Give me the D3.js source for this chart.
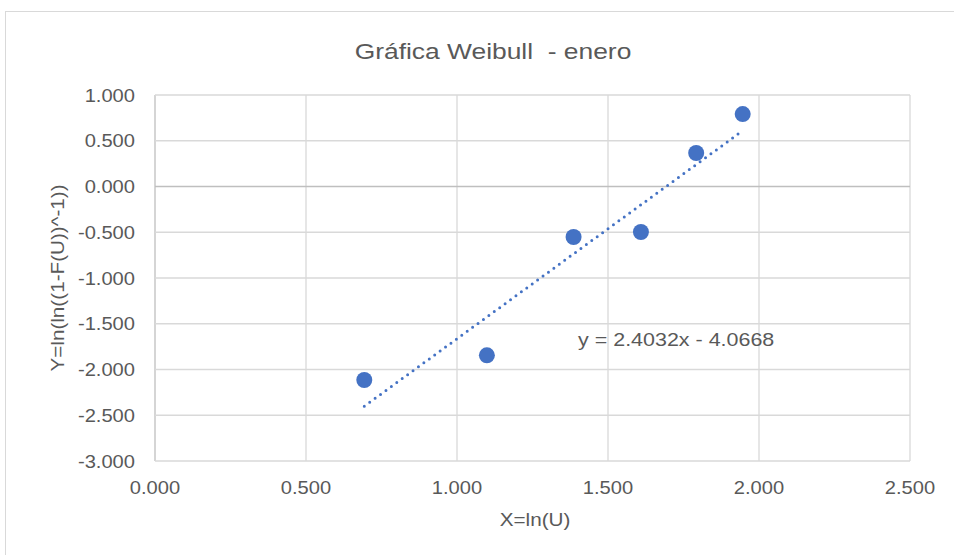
<!DOCTYPE html>
<html><head><meta charset="utf-8">
<script src="https://cdn.jsdelivr.net/npm/d3@7"></script>
<style>body{margin:0;background:#fff}svg{display:block;font-family:"Liberation Sans",Arial,sans-serif}text{white-space:pre}</style>
</head><body>
<script>
const xValues = [0.693, 1.099, 1.386, 1.609, 1.792, 1.946];
const yValues = [-2.115, -1.845, -0.552, -0.497, 0.366, 0.792];
const slope = 2.4032, intercept = -4.0668;
const xTicks = [0, 0.5, 1, 1.5, 2, 2.5];
const yTicks = [1, 0.5, 0, -0.5, -1, -1.5, -2, -2.5, -3];
const title = "Gráfica Weibull  - enero";
const xTitle = "X=ln(U)";
const yTitle = "Y=ln(ln((1-F(U))^-1))";
const eqLabel = "y = 2.4032x - 4.0668";

const W = 954, H = 555;
const svg = d3.select("body").append("svg").attr("width", W).attr("height", H);
svg.append("rect").attr("x",5.5).attr("y",11.5).attr("width",W).attr("height",H)
  .attr("fill","#fff").attr("stroke","#d9d9d9");

const x = d3.scaleLinear().domain([0,2.5]).range([155,910]);
const y = d3.scaleLinear().domain([-3,1]).range([461,95]);

// grid
svg.append("g").selectAll("line").data(xTicks).join("line")
  .attr("x1",d=>x(d)).attr("x2",d=>x(d)).attr("y1",y(1)).attr("y2",y(-3))
  .attr("stroke",(d)=>d===0?"#bfbfbf":"#d9d9d9").attr("stroke-width",1.3);
svg.append("g").selectAll("line").data(yTicks).join("line")
  .attr("x1",x(0)).attr("x2",x(2.5)).attr("y1",d=>y(d)).attr("y2",d=>y(d))
  .attr("stroke",(d)=>d===0?"#bfbfbf":"#d9d9d9").attr("stroke-width",1.3);

const fmt = d => d3.format(".3f")(d).replace("\u2212","-");
const col = "#595959";
svg.append("g").selectAll("text").data(yTicks).join("text")
  .attr("transform",d=>`translate(135,${y(d)}) scale(1.1,1)`).attr("dy","0.36em").attr("text-anchor","end")
  .attr("font-size",18.3).attr("fill",col).text(d=>fmt(d));
svg.append("g").selectAll("text").data(xTicks).join("text")
  .attr("transform",d=>`translate(${x(d)},494) scale(1.1,1)`).attr("text-anchor","middle")
  .attr("font-size",18.3).attr("fill",col).text(d=>fmt(d));

svg.append("text").attr("transform","translate(493,59) scale(1.2,1)").attr("text-anchor","middle")
  .attr("font-size",22).attr("fill",col).text(title);
svg.append("text").attr("transform","translate(535,526) scale(1.15,1)").attr("text-anchor","middle")
  .attr("font-size",18).attr("fill",col).text(xTitle);
svg.append("text").attr("transform","translate(64,278) rotate(-90) scale(1.15,1)").attr("text-anchor","middle")
  .attr("font-size",18).attr("fill",col).text(yTitle);

// trendline
const x0 = d3.min(xValues), x1 = d3.max(xValues);
svg.append("line").attr("x1",x(x0)).attr("y1",y(slope*x0+intercept))
  .attr("x2",x(x1)).attr("y2",y(slope*x1+intercept))
  .attr("stroke","#4472c4").attr("stroke-width",3).attr("stroke-dasharray","0 6.7").attr("stroke-linecap","round");

svg.append("g").selectAll("circle").data(xValues).join("circle")
  .attr("cx",d=>x(d)).attr("cy",(d,i)=>y(yValues[i])).attr("r",8).attr("fill","#4472c4");

svg.append("text").attr("transform","translate(578,346) scale(1.13,1)").attr("font-size",19).attr("fill",col).text(eqLabel);
</script>
</body></html>
